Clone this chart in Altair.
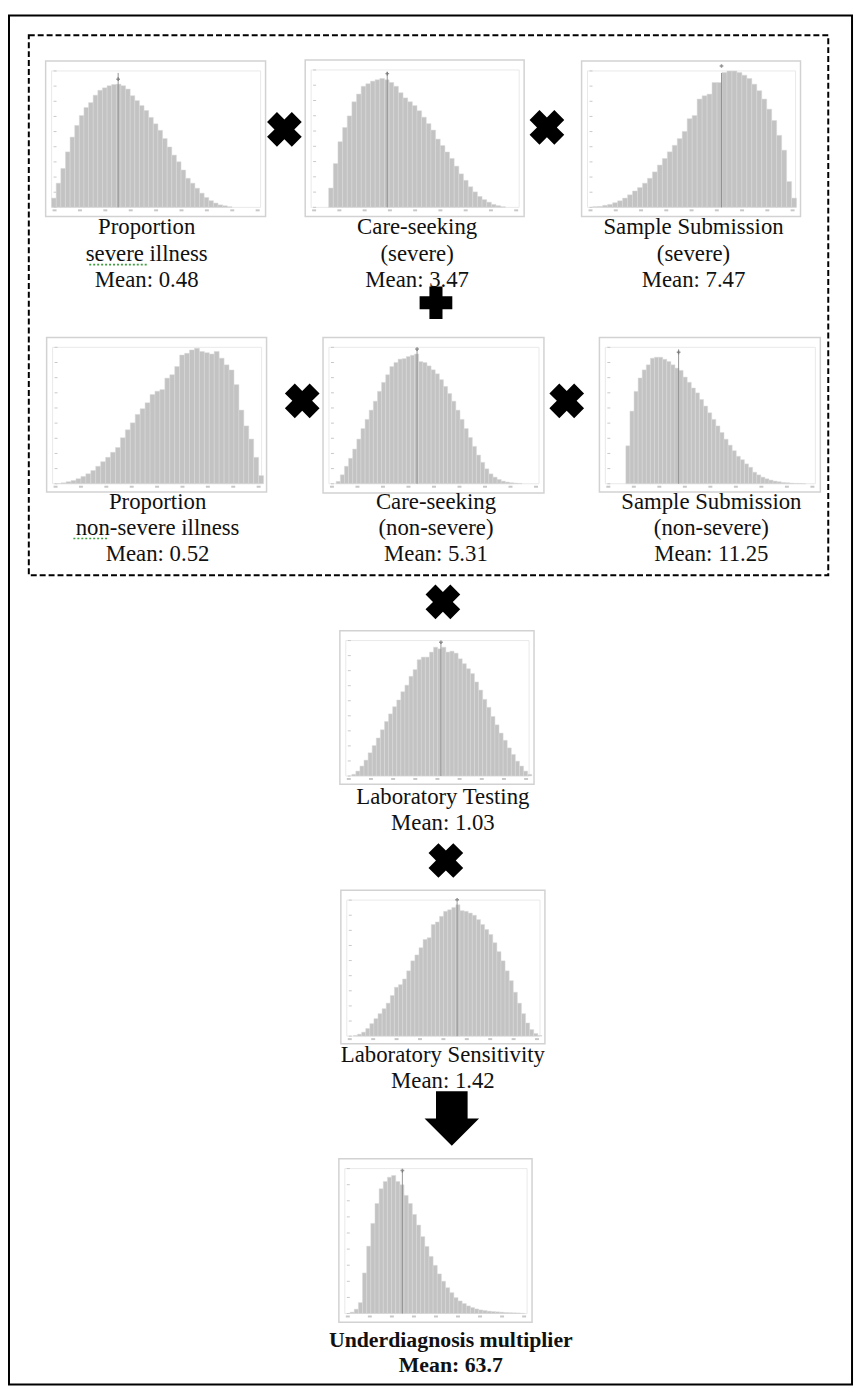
import altair as alt
import pandas as pd

OFF = 8  # page margin: reference pixel -> plot pixel

# ---------------- data: relative bar heights (% of each histogram's peak) ----------------
prop_severe = [7.5, 19.6, 31.6, 45, 57, 66.5, 74.5, 81, 85, 91, 95, 97, 98.7, 99.7, 100, 98.7, 96, 90.6,
               86.6, 82.6, 78.6, 73, 67.8, 62.5, 55.8, 49, 42.4, 37, 30.3, 23.6, 19.6, 15.5, 11.5, 8,
               5.4, 3.5, 2, 1.3, 0.5]
care_severe = [15, 34, 51, 62, 71, 82, 88, 94, 96, 98, 99, 100, 99, 97, 94, 89, 85, 82, 79, 75, 70, 65,
               60, 53, 48, 43, 38, 32, 26, 21, 16, 12, 8.5, 6, 4, 2.3, 1.3, 0.5]
subm_severe = [0.5, 0.7, 1.5, 2.2, 3.4, 4.8, 6.8, 9.2, 12, 14.5, 17.7, 21.3, 26, 31, 35.8, 40.7, 45.5,
               50.4, 55.7, 65, 67.3, 79.4, 81.8, 83, 91.5, 91.5, 98.8, 100, 100, 98.8, 96.9, 94.4, 90.3,
               85.5, 79.4, 72, 63.7, 52.8, 41.9, 18.9, 6.8]
prop_nonsev = [0.2, 0.7, 1.5, 2.4, 3.7, 5.4, 7.3, 9.8, 12.9, 16.3, 19.5, 23.2, 26.8, 34, 39.8, 45, 51.2,
               55.4, 59.8, 65.9, 68.3, 69.5, 78, 80.5, 86.6, 95, 96.3, 98.8, 100, 97.6, 96.8, 95.8, 97.6,
               92.7, 87.8, 84, 73.2, 54.4, 42.7, 33, 19.5, 6]
care_nonsev = [1.8, 6.9, 13.5, 19.6, 26.7, 34.4, 42.5, 49.6, 56.7, 63.6, 71.2, 78.1, 84, 90.3, 93.4, 96,
               96.4, 98, 99, 100, 94.1, 93.4, 90.8, 87.8, 84.7, 80.2, 75, 69.5, 63.6, 56.7, 49.6, 42.5,
               35.6, 28.8, 22.1, 16.5, 11.5, 7.6, 5.1, 3.3, 2, 1.3, 0.8, 0.5, 0.3]
subm_nonsev = [30, 57.4, 73, 83.6, 90, 94, 99.2, 100, 100, 98.4, 96.6, 94, 91.4, 89.6, 84.3, 80.2, 75.7,
               71.8, 66.6, 61.4, 56.1, 50.9, 45.7, 40.5, 35.2, 30.5, 26.1, 21.7, 19, 15.7, 13, 9.1, 7,
               5.2, 3.9, 2.9, 2.1, 1.6, 1, 0.8, 0.5, 0.3, 0.3, 0.1]
lab_testing = [1.3, 3.8, 7.7, 12.3, 18, 23.6, 29.5, 35.9, 42.3, 48.2, 53.8, 59, 65.4, 70.5, 77.4, 82.6,
               90.3, 92.3, 92.3, 96.2, 100, 98.7, 100, 96.2, 96.9, 95.4, 91, 87.2, 83.3, 79.5, 73, 66.7,
               59.5, 53.3, 46.2, 39.7, 33.3, 27.7, 21.8, 16.7, 11.5, 7.7, 3.8, 1.3]
lab_sens = [0.5, 1.5, 3, 5.8, 9.5, 13.3, 17.1, 20.9, 25.1, 30.9, 37.2, 39.2, 43.5, 49.7, 57.3, 61.8, 67.3,
            73.6, 74.9, 85, 86.9, 91.2, 95, 96.2, 98, 100, 95.5, 95, 93.7, 92, 88.7, 85, 81.2, 77.4,
            71.1, 64.3, 57.3, 49.7, 42.2, 33.4, 25.1, 17.1, 10, 5, 2, 0.5]
underdiag = [1, 3.1, 7.9, 29.4, 48.8, 65.3, 79.7, 90.4, 95.7, 98.8, 100, 95.7, 93.3, 85.6, 79.7, 71.8,
             64.1, 55.7, 48.6, 41.4, 34.9, 28.7, 23.4, 18.7, 15.1, 11.5, 9.1, 7.2, 5.5, 4.3, 3.3, 2.6,
             2.2, 1.7, 1.4, 1.2, 1, 0.7, 0.6, 0.5, 0.4, 0.2]

# mean position, expressed in bin units of each histogram (None = not visible)
mean_bins = [14.4, 12.6, 25.9, None, 19.6, 12.9, 21.8, 25.3, 12.6]

# captions
captions = [
    ["Proportion", "severe illness", "Mean: 0.48"],
    ["Care-seeking", "(severe)", "Mean: 3.47"],
    ["Sample Submission", "(severe)", "Mean: 7.47"],
    ["Proportion", "non-severe illness", "Mean: 0.52"],
    ["Care-seeking", "(non-severe)", "Mean: 5.31"],
    ["Sample Submission", "(non-severe)", "Mean: 11.25"],
    ["Laboratory Testing", "Mean: 1.03"],
    ["Laboratory Sensitivity", "Mean: 1.42"],
    ["Underdiagnosis multiplier", "Mean: 63.7"],
]
series = [prop_severe, care_severe, subm_severe, prop_nonsev, care_nonsev, subm_nonsev,
          lab_testing, lab_sens, underdiag]

# ---------------- layout (reference pixel positions) ----------------
layout = [
    dict(frame=(46, 268, 55, 212), bins=(52, 234), base=202.7, peak=78.3, cx=148, cy=230),
    dict(frame=(308, 529, 54, 212), bins=(331.7, 510), base=202.7, peak=72.7, cx=421, cy=230),
    dict(frame=(587, 808, 55, 212), bins=(598.3, 804), base=202.7, peak=65, cx=700, cy=230),
    dict(frame=(47, 269, 334, 490), bins=(56.7, 266), base=481.7, peak=345, cx=159, cy=507),
    dict(frame=(326, 549, 334, 491), bins=(339.3, 526.7), base=481.7, peak=350.7, cx=440, cy=507),
    dict(frame=(605, 828, 334, 490), bins=(631.7, 813.3), base=481.7, peak=354, cx=718, cy=507),
    dict(frame=(343, 539, 630, 785), bins=(355, 536.7), base=776.7, peak=646.7, cx=447, cy=805),
    dict(frame=(344, 550, 892, 1047), bins=(356.7, 547), base=1039.3, peak=906.7, cx=447, cy=1065),
    dict(frame=(342, 537, 1163, 1328), bins=(353.3, 529.3), base=1319.3, peak=1180, cx=455, cy=1353),
]
LINE = 26.5


def P(v):
    return v - OFF


def NX(f):
    return alt.X(f, scale=None, axis=None)


def NY(f):
    return alt.Y(f, scale=None, axis=None)


def rects(df, **kw):
    return alt.Chart(df).mark_rect(**kw).encode(x=NX("x:Q"), x2="x2:Q", y=NY("y:Q"), y2="y2:Q")


layers = []

# outer border and dashed group box
layers.append(rects(pd.DataFrame({"x": [1], "x2": [P(860)], "y": [1], "y2": [P(1391)]}),
                    fillOpacity=0, stroke="black", strokeWidth=2))
layers.append(rects(pd.DataFrame({"x": [P(29)], "x2": [P(836)], "y": [P(29)], "y2": [P(574)]}),
                    fillOpacity=0, stroke="black", strokeWidth=2, strokeDash=[6, 3]))

# histogram frames and plot areas
fr = pd.DataFrame([{"x": P(l["frame"][0]), "x2": P(l["frame"][1]), "y": P(l["frame"][2]),
                    "y2": P(l["frame"][3])} for l in layout])
layers.append(rects(fr, fill="white", stroke="#d2d2d2", strokeWidth=1.5))
inner = pd.DataFrame([{"x": P(l["frame"][0] + 6), "x2": P(l["frame"][1] - 5), "y": P(l["frame"][2] + 10),
                       "y2": P(l["base"])} for l in layout])
layers.append(rects(inner, fillOpacity=0, stroke="#e9e9e9", strokeWidth=1))

# tiny axis tick marks (labels unreadable in the source)
ticks = []
for l in layout:
    left, right = l["frame"][0] + 6, l["frame"][1] - 5
    top, base = l["frame"][2] + 10, l["base"]
    for k in range(10):
        yy = base - k * (base - top) / 9
        ticks.append({"x": P(left + 2), "x2": P(left + 5), "y": P(yy - 0.5), "y2": P(yy + 0.5)})
    for k in range(9):
        xx = left + 3 + k * (right - left - 6) / 8
        ticks.append({"x": P(xx - 2), "x2": P(xx + 2), "y": P(base + 2), "y2": P(base + 4)})
layers.append(rects(pd.DataFrame(ticks), fill="#c8c8c8"))

# histograms
for vals, l, mb in zip(series, layout, mean_bins):
    n = len(vals)
    df = pd.DataFrame({"i": list(range(n)), "v": vals})
    df["i1"] = df["i"] + 1
    df["z"] = 0
    xs = alt.Scale(domain=[0, n], range=[P(l["bins"][0]), P(l["bins"][1])], zero=False, nice=False)
    ys = alt.Scale(domain=[0, 100], range=[P(l["base"]), P(l["peak"])], nice=False)
    layers.append(alt.Chart(df).mark_rect(fill="#c3c3c3", stroke="#dadada", strokeWidth=0.5).encode(
        x=alt.X("i:Q", scale=xs, axis=None), x2="i1:Q",
        y=alt.Y("v:Q", scale=ys, axis=None), y2="z:Q"))
    if mb is not None:
        mdf = pd.DataFrame({"m": [mb]})
        layers.append(alt.Chart(mdf).mark_rule(color="#8a8a8a", strokeWidth=0.9).encode(
            x=alt.X("m:Q", scale=xs, axis=None),
            y=alt.value(P(l["frame"][2] + 12)), y2=alt.value(P(l["base"]))))
        layers.append(alt.Chart(mdf).mark_point(shape="cross", filled=True, color="#666", size=14).encode(
            x=alt.X("m:Q", scale=xs, axis=None), y=alt.value(P(l["peak"] - 5))))

# captions
rows, brows = [], []
for k, (cap, l) in enumerate(zip(captions, layout)):
    for j, t in enumerate(cap):
        r = {"x": P(l["cx"]), "y": P(l["cy"] + j * (25 if k == 8 else LINE)), "t": t}
        (brows if k == 8 else rows).append(r)
layers.append(alt.Chart(pd.DataFrame(rows)).mark_text(
    font="Liberation Serif", fontSize=23, color="#111", align="center", baseline="alphabetic").encode(
    x=NX("x:Q"), y=NY("y:Q"), text="t:N"))
layers.append(alt.Chart(pd.DataFrame(brows)).mark_text(
    font="Liberation Serif", fontSize=22, fontWeight="bold", color="#111", align="center",
    baseline="alphabetic").encode(x=NX("x:Q"), y=NY("y:Q"), text="t:N"))

# spell-check squiggles
sq = pd.DataFrame({"x": [P(90), P(74)], "x2": [P(149), P(108)], "y": [P(260.5), P(537)]})
layers.append(alt.Chart(sq).mark_rule(color="#3f9f3f", strokeWidth=1.6, strokeDash=[2, 2]).encode(
    x=NX("x:Q"), x2="x2:Q", y=NY("y:Q")))

# operators
times = pd.DataFrame({"x": [P(287), P(552), P(305), P(572), P(447), P(450)],
                      "y": [P(124), P(122), P(398), P(398), P(601), P(862)]})
layers.append(alt.Chart(times).mark_point(shape="cross", angle=45, filled=True, color="black",
                                          opacity=1, size=1250).encode(x=NX("x:Q"), y=NY("y:Q")))
plus = pd.DataFrame({"x": [P(440)], "y": [P(299)]})
layers.append(alt.Chart(plus).mark_point(shape="cross", filled=True, color="black", opacity=1,
                                         size=1090).encode(x=NX("x:Q"), y=NY("y:Q")))
ARROW = "M-0.58,-1L0.58,-1L0.58,0L1,0L0,1L-1,0L-0.58,0Z"
arrow = pd.DataFrame({"x": [P(456)], "y": [P(1122.5)]})
layers.append(alt.Chart(arrow).mark_point(shape=ARROW, filled=True, color="black", opacity=1,
                                          size=3025).encode(x=NX("x:Q"), y=NY("y:Q")))

chart = alt.layer(*layers).resolve_scale(x="independent", y="independent").properties(
    width=855, height=1386, autosize=alt.AutoSizeParams(type="none"), padding=0,
    background="white").configure_view(strokeWidth=0)

chart.save("out.html", embed_options={"renderer": "svg", "actions": False})
